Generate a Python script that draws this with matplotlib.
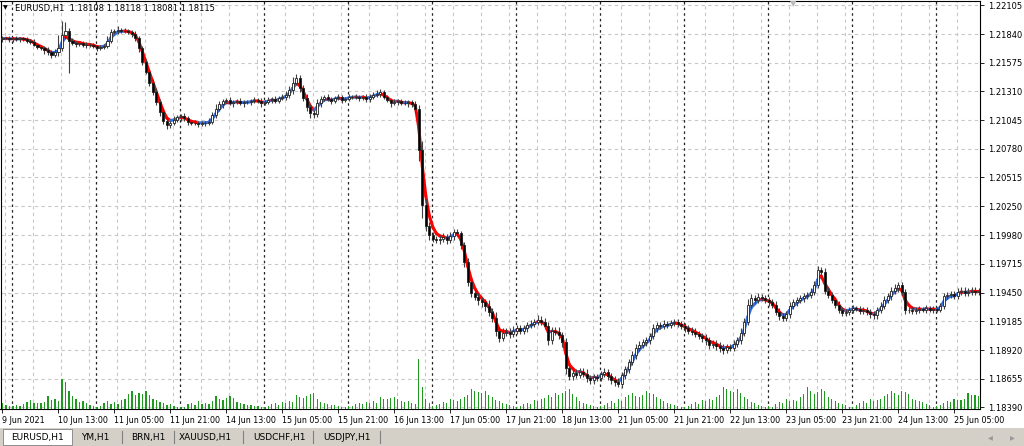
import numpy as np
import pandas as pd
import matplotlib
matplotlib.use("Agg")
import matplotlib.pyplot as plt
from matplotlib.collections import LineCollection
from matplotlib.patches import Rectangle

close = [
 1.2180,1.2180,1.2179,1.2180,1.2179,1.2180,1.2179,1.2178,1.2177,1.2174,
 1.2172,1.2171,1.2169,1.2167,1.2165,1.2167,1.2171,1.2183,1.2187,1.2178,
 1.2176,1.2175,1.2176,1.2174,1.2174,1.2174,1.2173,1.2171,1.2172,1.2173,
 1.2178,1.2186,1.2187,1.2188,1.2187,1.2187,1.2186,1.2184,1.2180,1.2171,
 1.2158,1.2149,1.2139,1.2130,1.2121,1.2112,1.2104,1.2100,1.2102,1.2105,
 1.2107,1.2108,1.2106,1.2103,1.2102,1.2102,1.2101,1.2102,1.2102,1.2103,
 1.2109,1.2115,1.2119,1.2122,1.2123,1.2120,1.2121,1.2122,1.2120,1.2121,
 1.2121,1.2122,1.2123,1.2122,1.2120,1.2121,1.2123,1.2124,1.2122,1.2125,
 1.2126,1.2128,1.2132,1.2139,1.2143,1.2134,1.2125,1.2117,1.2111,1.2110,
 1.2120,1.2124,1.2126,1.2124,1.2122,1.2125,1.2126,1.2123,1.2124,1.2126,
 1.2126,1.2126,1.2125,1.2126,1.2124,1.2126,1.2128,1.2129,1.2130,1.2126,
 1.2123,1.2120,1.2121,1.2122,1.2120,1.2120,1.2121,1.2119,1.2115,1.2077,
 1.2026,1.2007,1.1998,1.1995,1.1994,1.1995,1.1996,1.1994,1.1997,1.2001,
 1.2000,1.1989,1.1973,1.1955,1.1945,1.1941,1.1938,1.1936,1.1933,1.1927,
 1.1922,1.1910,1.1903,1.1908,1.1909,1.1907,1.1910,1.1912,1.1910,1.1912,
 1.1915,1.1916,1.1918,1.1920,1.1918,1.1914,1.1901,1.1910,1.1909,1.1906,
 1.1899,1.1875,1.1868,1.1871,1.1869,1.1872,1.1870,1.1866,1.1864,1.1867,
 1.1866,1.1870,1.1872,1.1868,1.1864,1.1862,1.1861,1.1869,1.1874,1.1881,
 1.1887,1.1894,1.1897,1.1899,1.1901,1.1905,1.1912,1.1915,1.1914,1.1916,
 1.1915,1.1917,1.1918,1.1916,1.1914,1.1912,1.1910,1.1909,1.1907,1.1905,
 1.1903,1.1901,1.1897,1.1898,1.1896,1.1894,1.1892,1.1895,1.1894,1.1898,
 1.1901,1.1908,1.1918,1.1934,1.1940,1.1938,1.1941,1.1940,1.1938,1.1936,
 1.1934,1.1927,1.1923,1.1922,1.1925,1.1933,1.1936,1.1938,1.1940,1.1942,
 1.1943,1.1946,1.1952,1.1966,1.1964,1.1947,1.1943,1.1938,1.1934,1.1929,
 1.1926,1.1927,1.1929,1.1931,1.1930,1.1928,1.1929,1.1927,1.1925,1.1924,
 1.1929,1.1933,1.1938,1.1942,1.1947,1.1949,1.1952,1.1946,1.1929,1.1929,
 1.1928,1.1929,1.1930,1.1929,1.1931,1.1929,1.1930,1.1929,1.1933,1.1942,
 1.1943,1.1944,1.1942,1.1946,1.1947,1.1945,1.1946,1.1947,1.1946,1.1946,
]
open_first = 1.2179

# wick lengths in units of 0.0001
wick_up = [
 2,1,2,1,2,1,1,2,1,2, 2,1,2,3,2,3,12,13,8,3, 2,2,1,2,3,2,2,1,2,2,
 4,3,2,3,2,3,2,2,3,2, 2,3,2,3,4,3,4,3,2,3, 2,2,3,2,2,3,2,2,2,3,
 3,4,3,2,2,3,2,2,3,2, 2,2,3,2,3,2,3,2,3,2, 3,3,4,5,4,3,3,4,2,3,
 4,3,2,3,2,2,3,2,2,3, 2,3,2,2,3,3,2,3,3,2, 2,2,3,2,2,3,2,2,3,3,
 8,6,3,3,2,3,4,3,4,3, 3,2,3,4,3,3,4,3,3,5, 4,5,3,4,3,3,4,3,3,3,
 3,4,3,4,3,4,4,3,3,4, 3,4,3,3,3,3,3,4,3,3, 3,3,3,2,3,4,4,3,3,3,
 4,4,3,3,3,3,4,3,3,4, 3,3,3,3,3,3,3,3,3,3, 3,4,3,3,3,3,4,3,3,3,
 3,4,4,5,4,3,4,3,3,3, 3,3,4,3,3,3,3,3,3,3, 3,3,4,4,3,4,3,3,3,3,
 3,3,3,3,2,3,3,3,3,3, 3,3,4,3,3,4,3,3,2,3, 3,3,3,2,3,2,3,2,2,3,
 3,3,3,3,3,3,3,3,3,3,
]
wick_dn = [
 2,1,2,2,1,2,1,2,2,1, 2,2,3,2,3,2,3,3,4,30, 2,3,2,2,3,2,2,3,2,2,
 2,2,2,3,2,2,2,3,2,4, 3,2,3,2,3,4,3,4,3,2, 2,3,2,3,2,2,3,2,3,2,
 2,3,2,3,2,2,3,2,2,3, 2,3,2,2,3,2,2,3,2,2, 2,3,3,3,2,4,3,4,5,4,
 3,3,2,2,3,2,2,3,2,2, 2,2,3,2,3,3,2,2,3,2, 2,3,2,3,2,2,3,2,4,10,
 12,5,4,3,3,4,3,4,3,3, 3,4,4,4,4,3,4,4,5,4, 4,5,4,3,3,4,3,3,3,3,
 3,3,3,3,3,3,4,3,3,4, 4,5,4,4,3,3,3,4,3,3, 3,3,3,4,3,3,3,4,4,3,
 3,3,3,3,3,3,3,3,3,3, 3,3,3,3,3,3,3,3,3,3, 4,4,4,3,4,4,4,3,3,3,
 3,3,3,3,3,3,3,3,3,3, 3,3,3,3,3,3,3,3,3,4, 3,3,3,3,3,3,3,3,3,3,
 3,3,3,3,2,3,3,3,3,3, 3,3,3,3,4,3,3,3,4,3, 3,3,3,2,3,2,3,2,2,3,
 3,3,3,3,3,3,3,3,3,3,
]
# tick volumes (hundreds)
volume_h = (
 [6,4,3] +
 [3,4,3,5,7,9,6,6,6,7,13,9,10,8,30,27,18,13,10,7,8,6,4,3] +
 [2,3,6,8,5,7,5,9,10,15,18,14,16,15,18,14,10,9,7,6,4,5,3,2] +
 [2,2,5,6,4,8,5,6,5,8,13,10,9,11,13,11,7,6,5,4,4,3,3,2] +
 [2,3,5,6,4,7,6,8,7,14,12,11,13,15,16,10,7,6,5,4,4,3,2,2] +
 [3,3,5,6,5,7,6,8,6,12,10,10,11,12,10,8,7,8,6,5,50,22,10,6] +
 [3,4,5,7,6,10,9,8,10,12,14,20,18,17,16,18,14,12,9,8,6,5,4,3] +
 [2,3,5,6,5,9,8,10,11,14,12,16,14,16,18,20,15,12,8,6,5,4,3,2] +
 [3,4,6,8,6,10,8,12,14,16,13,12,14,18,16,15,12,10,8,6,5,4,3,2] +
 [2,3,5,7,5,9,8,10,9,12,14,22,20,18,17,20,16,12,10,7,6,4,3,2] +
 [3,2,5,7,6,10,8,9,8,12,15,22,18,15,17,20,18,12,10,8,6,5,4,2] +
 [2,4,6,8,6,10,8,9,10,13,15,18,16,14,18,17,15,10,9,8,7,5,4,2] +
 [3,4,6,8,7,10,9,9,10,16,14,14,13]
)
price_ticks = [1.22105,1.21840,1.21575,1.21310,1.21045,1.20780,1.20515,
               1.20250,1.19980,1.19715,1.19450,1.19185,1.18920,1.18655,1.18390]
price_labels = ["1.22105","1.21840","1.21575","1.21310","1.21045","1.20780","1.20515",
                "1.20250","1.19980","1.19715","1.19450","1.19185","1.18920","1.18655","1.18390"]
tabs = ["EURUSD,H1","YM,H1","BRN,H1","XAUUSD,H1","USDCHF,H1","USDJPY,H1"]
header = "EURUSD,H1  1.18108 1.18118 1.18081 1.18115"

n = len(close)
c = np.array(close)
o = np.concatenate([[open_first], c[:-1]])
hi = np.maximum(o, c) + np.array(wick_up) * 1e-4
lo = np.minimum(o, c) - np.array(wick_dn) * 1e-4
vol = np.array(volume_h) * 100

hrs = pd.date_range("2021-06-09 21:00", periods=600, freq="h")
hrs = hrs[hrs.dayofweek < 5][:n]

W, H = 1024, 446
fig = plt.figure(figsize=(W/100, H/100), dpi=100)
fig.patch.set_facecolor("white")
ax = fig.add_axes([0.5/W, 1-409/H, 979.5/W, 408.5/H])
ymax = 1.2215
ymin = 1.2215 - 0.0000923*409
ax.set_xlim(-0.57, 279.4)
ax.set_ylim(ymin, ymax)

axv = ax.twinx()
axv.set_ylim(0, 40900)
axv.bar(np.arange(n), vol, width=0.35, color="#1e9a1e", zorder=1)
axv.axis("off")

for t in price_ticks:
    ax.axhline(t, color="#c8c8c8", lw=0.8, ls=(0, (3, 3)), zorder=0)
for i in range(0, n, 8):
    ax.axvline(i + 0.8, color="#c8c8c8", lw=0.8, ls=(0, (3, 3)), zorder=0)
day_start = [i for i in range(1, n) if hrs[i].day != hrs[i-1].day]
for i in day_start:
    ax.axvline(i - 0.3, color="#222222", lw=0.9, ls=(0, (2, 2.5)), zorder=0)

ma = pd.Series(c).ewm(span=3, adjust=False).mean().values
x = np.arange(n)
segs = [[(x[i-1], ma[i-1]), (x[i], ma[i])] for i in range(1, n)]
cols = ["#3a6fd8" if ma[i] >= ma[i-1] else "#ff0000" for i in range(1, n)]
ax.add_collection(LineCollection(segs, colors=cols, linewidths=2.2, zorder=2, capstyle="round"))

ax.vlines(x, lo, hi, color="#404040", lw=0.8, zorder=3)
bw = 0.6
for i in range(n):
    bull = c[i] >= o[i]
    b0 = min(o[i], c[i]); bh = max(abs(c[i]-o[i]), 0.00002)
    ax.add_patch(Rectangle((i - bw/2, b0), bw, bh,
                           facecolor="white" if bull else "black",
                           edgecolor="#202020", lw=0.6, zorder=4))

ax.set_yticks(price_ticks)
ax.yaxis.tick_right()
ax.set_yticklabels(price_labels, fontsize=6)
ax.tick_params(axis="y", length=3, pad=3, width=0.6)
xt = list(range(0, n, 16))
xl = []
for i in xt:
    ts = hrs[i]
    xl.append(f"{ts.day} Jun 2021" if i == 0 else f"{ts.day} Jun {ts.hour:02d}:00")
ax.set_xticks(xt)
ax.set_xticklabels(xl, fontsize=5.8, ha="left")
ax.tick_params(axis="x", length=3, pad=2, width=0.6)
for s in ax.spines.values():
    s.set_linewidth(0.8)

fig.text(3/W, 1-8/H, "\u25bc", fontsize=4.5, va="center")
fig.text(15/W, 1-8/H, header, fontsize=6, va="center")
fig.text(793/W, 1-4/H, "\u25bc", fontsize=6, va="center", ha="center", color="#bbbbbb")

bar = fig.add_axes([0, 0, 1, 18/H])
bar.set_xlim(0, W); bar.set_ylim(0, 18)
bar.axis("off")
bar.add_patch(Rectangle((0, 0), W, 18, facecolor="#d4d0c8", edgecolor="none"))
bar.add_patch(Rectangle((3, 1), 69, 16, facecolor="white", edgecolor="#808080", lw=0.6))
centers = [37, 95, 148, 205, 280, 347]
seps = [122, 174, 243, 313, 380]
for t, cx in zip(tabs, centers):
    bar.text(cx, 8.5, t, fontsize=6.5, ha="center", va="center")
for sx in seps:
    bar.plot([sx, sx], [3, 15], color="#808080", lw=0.8)
bar.text(990, 9, "\u25c2", fontsize=7, ha="center", va="center", color="#999999")
bar.text(1012, 9, "\u25b8", fontsize=7, ha="center", va="center", color="#999999")

fig.savefig("out.png", dpi=100)
